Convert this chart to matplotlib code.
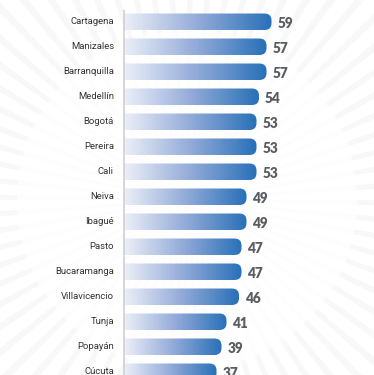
import numpy as np
import matplotlib
matplotlib.use("Agg")
import matplotlib.pyplot as plt
from matplotlib.colors import LinearSegmentedColormap
from matplotlib.path import Path
from matplotlib.patches import PathPatch, Wedge

cities = ["Cartagena", "Manizales", "Barranquilla", "Medellín", "Bogotá",
          "Pereira", "Cali", "Neiva", "Ibagué", "Pasto", "Bucaramanga",
          "Villavicencio", "Tunja", "Popayán", "Cúcuta"]
values = [59, 57, 57, 54, 53, 53, 53, 49, 49, 47, 47, 46, 41, 39, 37]

W, H = 374, 375
PX_X = 2.5          # pixels per value unit
PX_Y = 25.0         # pixels per row
X0 = 124            # pixel x of the zero line
Y0 = 21.75          # pixel y of the first row centre

fig = plt.figure(figsize=(W / 100, H / 100), dpi=100)
fig.patch.set_facecolor("white")

# very faint sunburst background, in pixel coordinates
bg = fig.add_axes([0, 0, 1, 1], zorder=0)
bg.set_xlim(0, W)
bg.set_ylim(H, 0)
bg.axis("off")
for a in np.arange(0, 360, 5):
    bg.add_patch(Wedge((187, 200), 600, a, a + 1.6, color="#f8f8f8", lw=0))
bg.add_patch(plt.Circle((187, 200), 170, color="white", alpha=0.8, lw=0))

ax = fig.add_axes([0, 0, 1, 1], zorder=1)
ax.patch.set_alpha(0)
ax.set_xlim(-X0 / PX_X, (W - X0) / PX_X)
ax.set_ylim((H - Y0) / PX_Y, -Y0 / PX_Y)
ax.axis("off")

cmap = LinearSegmentedColormap.from_list("bar", ["#eceff8", "#93abd9", "#2870b8"])
grad = np.linspace(0, 1, 256).reshape(1, -1)

bh = 16.5 / PX_Y
r = 7.0
rx, ry = r / PX_X, r / PX_Y
for i, (city, v) in enumerate(zip(cities, values)):
    y0, y1 = i - bh / 2, i + bh / 2
    verts = [(0, y0), (v - rx, y0), (v, y0), (v, y0 + ry), (v, y1 - ry),
             (v, y1), (v - rx, y1), (0, y1), (0, y0)]
    codes = [Path.MOVETO, Path.LINETO, Path.CURVE3, Path.CURVE3, Path.LINETO,
             Path.CURVE3, Path.CURVE3, Path.LINETO, Path.CLOSEPOLY]
    patch = PathPatch(Path(verts, codes), facecolor="none", edgecolor="none")
    ax.add_patch(patch)
    im = ax.imshow(grad, cmap=cmap, aspect="auto", extent=(0, v, y1, y0),
                   interpolation="bilinear", zorder=2)
    im.set_clip_path(patch)
    ax.text(-10 / PX_X, i, city, ha="right", va="center", fontsize=6.8,
            family="Roboto", color="#333333")
    ax.text(v + 6 / PX_X, i + 1.5 / PX_Y, str(v), ha="left", va="center",
            fontsize=9.8, family="Lato", fontweight="heavy", color="#5a5d62")

ax.plot([0, 0], [-11.75 / PX_Y, 20], color="#d0d0d0", lw=1.2, zorder=3,
        solid_capstyle="butt")

fig.savefig("out.png", dpi=100, facecolor="white")
